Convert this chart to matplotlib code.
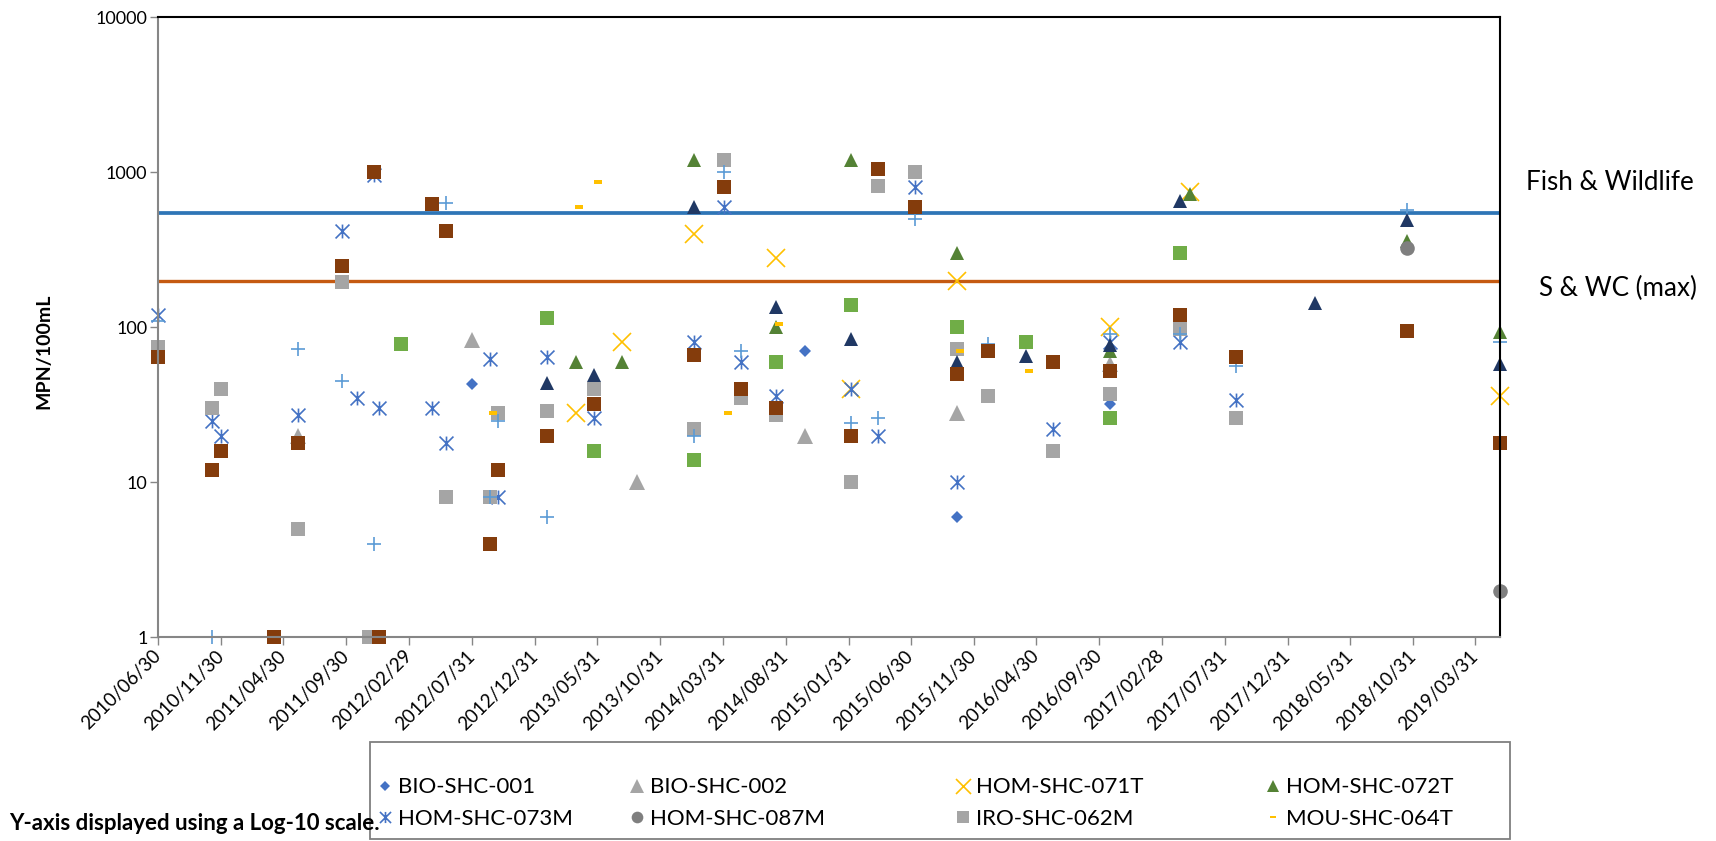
import pandas as pd
import matplotlib
matplotlib.use('Agg')
import matplotlib.pyplot as plt
from matplotlib.path import Path
from matplotlib.ticker import NullLocator
import matplotlib.patches as mpatches

plt.rcParams['font.family'] = ['Lato', 'DejaVu Sans']

# --- data (MPN/100mL) ---
bio001_dates = ['2012-07-30', '2014-10-17', '2015-10-20', '2016-10-27']
bio001_vals = [43, 70, 6, 32]

bio002_dates = ['2011-06-06', '2012-07-30', '2013-09-05', '2014-10-17', '2015-10-20', '2016-10-27']
bio002_vals = [20, 83, 10, 20, 28, 58]

hom071_dates = ['2013-04-09', '2013-07-31', '2014-01-21', '2014-08-07', '2015-02-05',
                '2015-10-20', '2016-10-27', '2017-05-09', '2019-05-30']
hom071_vals = [28, 80, 400, 280, 40, 200, 100, 750, 36]

hom072_dates = ['2013-04-09', '2013-07-31', '2014-01-21', '2014-08-07', '2015-02-05',
                '2015-10-20', '2016-10-27', '2017-05-09', '2018-10-17', '2019-05-30']
hom072_vals = [60, 60, 1200, 100, 1200, 300, 70, 720, 360, 93]

hom073_dates = ['2010-06-30', '2010-11-09', '2010-11-29', '2011-06-06', '2011-09-20',
                '2011-10-25', '2011-12-06', '2011-12-19', '2012-04-24', '2012-05-29',
                '2012-09-13', '2012-10-01', '2013-01-28', '2013-05-24', '2014-01-21',
                '2014-04-04', '2014-05-14', '2014-08-07', '2015-02-05', '2015-04-13',
                '2015-07-10', '2015-10-20', '2016-06-10', '2016-10-27', '2017-04-13',
                '2017-08-27']
hom073_vals = [120, 25, 20, 27, 420, 35, 960, 30, 30, 18,
               62, 8, 64, 26, 80, 600, 60, 36, 40, 20,
               800, 10, 22, 80, 80, 34]

hom087_dates = ['2018-10-17', '2019-05-30']
hom087_vals = [325, 2]

iro062_dates = ['2010-06-30', '2010-11-09', '2010-11-29', '2011-06-06', '2011-09-20',
                '2011-11-25', '2012-05-29', '2012-09-13', '2012-10-01', '2013-01-28',
                '2013-05-24', '2014-01-21', '2014-04-04', '2014-05-14', '2014-08-07',
                '2015-02-05', '2015-04-13', '2015-07-10', '2015-10-20', '2016-01-04',
                '2016-06-10', '2016-10-27', '2017-04-13', '2017-08-27']
iro062_vals = [75, 30, 40, 5, 195, 1, 8, 8, 28, 29,
               40, 22, 1200, 35, 27, 10, 820, 1000, 72, 36,
               16, 37, 98, 26]

mou064_dates = ['2012-09-19', '2013-04-17', '2013-06-01', '2014-04-12', '2014-08-15',
                '2015-10-28', '2016-04-13']
mou064_vals = [28, 600, 860, 28, 105, 70, 52]

# series plotted but cut off from the legend
plus_dates = ['2010-06-30', '2010-11-09', '2011-06-06', '2011-09-20', '2011-12-06',
              '2012-05-29', '2012-09-13', '2012-10-01', '2013-01-28', '2014-01-21',
              '2014-04-04', '2014-05-14', '2015-02-05', '2015-04-13', '2015-07-10',
              '2016-01-04', '2016-10-27', '2017-04-13', '2017-08-27', '2018-10-17',
              '2019-05-30']
plus_vals = [110, 1, 72, 45, 4, 630, 8, 25, 6, 20,
             1000, 70, 24, 26, 500, 78, 90, 90, 56, 570, 80]

navy_dates = ['2013-01-28', '2013-05-24', '2014-01-21', '2014-08-07', '2015-02-05',
              '2015-10-20', '2016-04-05', '2016-10-27', '2017-04-13', '2018-03-07',
              '2018-10-17', '2019-05-30']
navy_vals = [44, 49, 600, 136, 84, 60, 65, 77, 650, 143, 490, 58]

green_sq_dates = ['2012-02-10', '2013-01-28', '2013-05-24', '2014-01-21', '2014-08-07',
                  '2015-02-05', '2015-10-20', '2016-04-05', '2016-10-27', '2017-04-13']
green_sq_vals = [78, 115, 16, 14, 60, 140, 100, 80, 26, 300]

brown_dates = ['2010-06-30', '2010-11-09', '2010-11-29', '2011-04-08', '2011-06-06',
               '2011-09-20', '2011-12-06', '2011-12-19', '2012-04-24', '2012-05-29',
               '2012-09-13', '2012-10-01', '2013-01-28', '2013-05-24', '2014-01-21',
               '2014-04-04', '2014-05-14', '2014-08-07', '2015-02-05', '2015-04-13',
               '2015-07-10', '2015-10-20', '2016-01-04', '2016-06-10', '2016-10-27',
               '2017-04-13', '2017-08-27', '2018-10-17', '2019-05-30']
brown_vals = [64, 12, 16, 1, 18, 250, 1000, 1, 620, 420,
              4, 12, 20, 32, 66, 800, 40, 30, 20, 1050,
              600, 50, 70, 60, 52, 120, 64, 94, 18]

fish_wildlife = 550
swc_max = 200

tick_dates = ['2010-06-30', '2010-11-30', '2011-04-30', '2011-09-30', '2012-02-29',
              '2012-07-31', '2012-12-31', '2013-05-31', '2013-10-31', '2014-03-31',
              '2014-08-31', '2015-01-31', '2015-06-30', '2015-11-30', '2016-04-30',
              '2016-09-30', '2017-02-28', '2017-07-31', '2017-12-31', '2018-05-31',
              '2018-10-31', '2019-03-31']
y_ticks = [1, 10, 100, 1000, 10000]

# --- markers ---
star = Path([(-1, -1), (1, 1), (-1, 1), (1, -1), (0, -1), (0, 1)],
            [Path.MOVETO, Path.LINETO, Path.MOVETO, Path.LINETO, Path.MOVETO, Path.LINETO])
dash = Path([(-1, -0.4), (1, -0.4), (1, 0.4), (-1, 0.4), (-1, -0.4)],
            [Path.MOVETO, Path.LINETO, Path.LINETO, Path.LINETO, Path.CLOSEPOLY])

series = [
    ('BIO-SHC-001', bio001_dates, bio001_vals, dict(marker='D', ms=6.5, color='#4472C4', mew=0)),
    ('BIO-SHC-002', bio002_dates, bio002_vals, dict(marker='^', ms=12, color='#A5A5A5', mew=0)),
    ('HOM-SHC-071T', hom071_dates, hom071_vals, dict(marker='x', ms=13.5, color='#FFC000', mew=1.2)),
    ('HOM-SHC-072T', hom072_dates, hom072_vals, dict(marker='^', ms=10.5, color='#548235', mew=0)),
    ('HOM-SHC-073M', hom073_dates, hom073_vals, dict(marker=star, ms=10, color='#4472C4', mew=1.2, mfc='none')),
    ('HOM-SHC-087M', hom087_dates, hom087_vals, dict(marker='o', ms=10.5, color='#7F7F7F', mew=0)),
    ('IRO-SHC-062M', iro062_dates, iro062_vals, dict(marker='s', ms=10.4, color='#A5A5A5', mew=0)),
    ('MOU-SHC-064T', mou064_dates, mou064_vals, dict(marker=dash, ms=6, color='#FFC000', mew=0)),
    (None, plus_dates, plus_vals, dict(marker='+', ms=10.5, color='#5B9BD5', mew=1.2)),
    (None, navy_dates, navy_vals, dict(marker='^', ms=10.5, color='#203864', mew=0)),
    (None, green_sq_dates, green_sq_vals, dict(marker='s', ms=10.4, color='#70AD47', mew=0)),
    (None, brown_dates, brown_vals, dict(marker='s', ms=10.4, color='#843C0C', mew=0)),
]

W, H = 1716, 841
fig = plt.figure(figsize=(W / 100, H / 100), dpi=100)
ax = fig.add_axes([157.9 / W, 1 - 637.3 / H, (1500 - 157.9) / W, (637.3 - 17.3) / H])

ax.axhline(fish_wildlife, color='#2E75B6', lw=2.7, zorder=1.5)
ax.axhline(swc_max, color='#C55A11', lw=2.4, zorder=1.5)

handles = []
for name, d, v, style in series:
    line, = ax.plot(pd.to_datetime(d), v, linestyle='none', clip_on=False, **style)
    if name is not None:
        handles.append((line, name))

ax.set_yscale('log')
ax.set_ylim(1, 10000)
ax.set_yticks(y_ticks)
ax.set_yticklabels([str(t) for t in y_ticks])
ax.yaxis.set_minor_locator(NullLocator())
ax.set_xlim(pd.Timestamp('2010-06-30'), pd.Timestamp('2019-05-30'))
ticks = pd.to_datetime(tick_dates)
ax.set_xticks(ticks)
ax.set_xticklabels([t.strftime('%Y/%m/%d') for t in ticks], rotation=45,
                   ha='right', va='center', rotation_mode='anchor')
ax.xaxis.set_minor_locator(NullLocator())

ax.tick_params(axis='both', direction='out', length=5.5, width=1, color='#868686',
               labelcolor='black')
ax.tick_params(axis='x', pad=6, labelsize=13.5)
ax.tick_params(axis='y', pad=2, labelsize=13)

for s in ['left', 'bottom']:
    ax.spines[s].set_color('#868686')
    ax.spines[s].set_linewidth(1.5)
for s in ['top', 'right']:
    ax.spines[s].set_color('black')
    ax.spines[s].set_linewidth(1.5)

fig.text(44 / W, 1 - 351 / H, 'MPN/100mL', rotation=90, fontsize=14,
         fontweight='bold', ha='center', va='center')
fig.text(1525.7 / W, 1 - 182.7 / H, 'Fish & Wildlife', fontsize=18.7, va='center')
fig.text(1539 / W, 1 - 288 / H, 'S & WC (max)', fontsize=18.7, va='center')

# legend frame + four columns placed like the original
frame = mpatches.Rectangle((370 / W, 1 - 839 / H), (1510 - 370) / W, 97 / H,
                           transform=fig.transFigure, facecolor='white',
                           edgecolor='#7F7F7F', lw=1.3, zorder=1)
fig.add_artist(frame)

col_x = [385, 637, 963, 1273]
fs_px = 16 * 100 / 72
for i, cx in enumerate(col_x):
    col = [handles[i], handles[i + 4]]
    leg = fig.legend([h for h, _ in col], [n for _, n in col],
                     loc='center left',
                     bbox_to_anchor=((cx - 0.3 * fs_px) / W, 1 - 803 / H),
                     frameon=False, fontsize=16, handlelength=0.6,
                     handletextpad=0.3, borderpad=0, borderaxespad=0,
                     labelspacing=0.5, markerscale=0.8)
    leg.set_zorder(5)

fig.text(9 / W, 1 - 823 / H, 'Y-axis displayed using a Log-10 scale.',
         fontsize=16, fontweight='bold', va='center', zorder=10)

fig.savefig('out.png', dpi=100)
